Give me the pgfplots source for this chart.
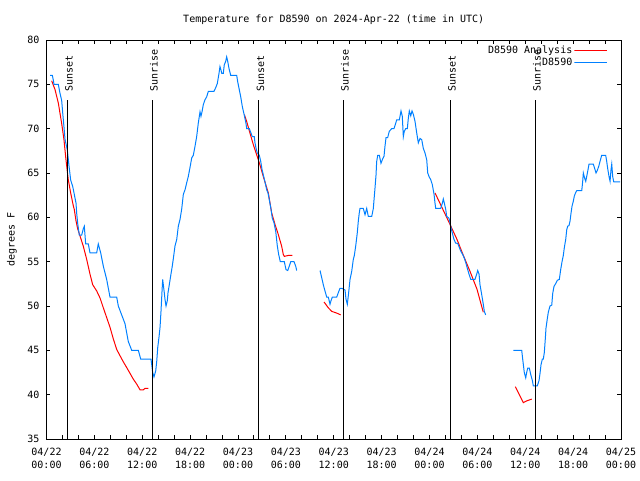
\documentclass[border=0pt]{standalone}
\usepackage{fontspec}
\setmainfont{DejaVu Sans Mono}
\usepackage{pgfplots}
\pgfplotsset{compat=1.18}
\definecolor{obsblue}{RGB}{0,128,255}
\definecolor{anared}{RGB}{255,0,0}
\begin{document}
\begin{tikzpicture}[font=\fontsize{10}{12.7}\selectfont]
\path[use as bounding box] (0,0) rectangle (640pt,480pt);
\node[anchor=center] at (333.75pt,460pt) {Temperature for D8590 on 2024-Apr-22 (time in UTC)};
\begin{axis}[
  at={(46.5pt,41pt)}, anchor=south west,
  width=574.5pt, height=399pt, scale only axis,
  xmin=0, xmax=72, ymin=35, ymax=80,
  xtick={0,6,...,72},
  xticklabels={{04/22\\00:00},{04/22\\06:00},{04/22\\12:00},{04/22\\18:00},{04/23\\00:00},{04/23\\06:00},{04/23\\12:00},{04/23\\18:00},{04/24\\00:00},{04/24\\06:00},{04/24\\12:00},{04/24\\18:00},{04/25\\00:00}},
  xticklabel style={align=center, font=\fontsize{10}{12.7}\selectfont, yshift=-6pt},
  minor x tick num=2,
  ytick={35,40,...,80},
  yticklabel style={xshift=-3.5pt},
  /pgf/number format/assume math mode=true,
  tick align=inside,
  major tick length=4pt, minor tick length=4pt,
  every tick/.style={black, line width=1pt},
  axis line style={black, line width=1pt},
  ylabel={degrees F},
  ylabel style={at={(axis description cs:-0.06005,0.5)}, anchor=center},
  legend style={draw=none, fill=none, at={(rel axis cs:1,1)}, anchor=north east, xshift=-10pt, yshift=-2pt, row sep=0.5pt, nodes={inner sep=1.5pt}},
  legend plot pos=right,
  legend cell align=right,
  legend image code/.code={\path (0pt,0pt) rectangle (5pt,0pt); \draw[#1] (5pt,0pt) -- (33pt,0pt);},
]
% ---- Analysis (red) ----
\addplot[anared, line width=1pt] coordinates {
(0.65,75.4) (1.07,74.4) (1.48,72.9) (1.90,70.6) (2.19,68.75) (2.44,66.5) (2.73,64.25) (3.03,62.75) (3.36,61.3) (3.48,60.9) (3.70,59.6) (3.91,58.7) (4.20,57.9) (4.61,56.75) (5.04,55.25) (5.45,53.6) (5.79,52.4) (6.29,51.7) (6.71,50.9) (7.12,49.8) (7.54,48.7) (7.96,47.6) (8.37,46.3) (8.80,45.1) (9.21,44.4) (9.63,43.7) (10.05,43.06) (10.47,42.4) (10.88,41.75) (11.30,41.2) (11.72,40.55) (12.13,40.55) (12.34,40.7) (12.76,40.7)
};
\addlegendentry{D8590 Analysis}
\addplot[anared, line width=1pt, forget plot] coordinates {
(24.79,71.6) (25.09,70.8) (25.50,69.5) (25.92,68.2) (26.34,67.06) (26.76,65.9) (27.17,64.6) (27.80,62.75) (28.22,60.5) (28.64,59.2) (29.05,58.06) (29.47,56.75) (29.68,55.8) (29.80,55.6) (30.30,55.7) (30.81,55.7)
};
\addplot[anared, line width=1pt, forget plot] coordinates {
(34.78,50.45) (35.32,49.8) (35.74,49.4) (36.37,49.2) (36.87,49.0)
};
\addplot[anared, line width=1pt, forget plot] coordinates {
(48.69,62.75) (49.57,61.1) (50.57,59.2) (51.45,57.5) (52.20,55.8) (53.08,53.9) (53.95,51.9) (54.74,49.3)
};
\addplot[anared, line width=1pt, forget plot] coordinates {
(58.75,40.9) (59.26,40.0) (59.76,39.1) (60.18,39.3) (60.81,39.5)
};
% ---- Observations (blue) ----
\addplot[obsblue, line width=1pt] coordinates {
(0.44,76) (0.73,76) (0.85,75.5) (0.94,75) (1.48,75) (1.69,74) (1.90,73.2) (2.03,71.8) (2.19,70.2) (2.32,68.8) (2.61,67.6) (2.82,65.8) (3.03,64.2) (3.28,63.5) (3.48,62.6) (3.70,61.6) (3.78,60.5) (3.91,59.3) (4.11,58) (4.41,58) (4.61,58.7) (4.74,59) (4.91,57) (5.24,57) (5.45,56) (6.29,56) (6.49,57) (6.79,56) (7.12,54.5) (7.54,53) (7.96,51) (8.80,51) (9.00,50) (9.42,49) (9.84,48) (10.25,46) (10.68,45) (11.51,45) (11.81,44) (13.10,44) (13.31,42.5) (13.47,42) (13.69,42.7) (13.81,43.7) (13.94,45.3) (14.10,46.5) (14.23,47.6) (14.35,49.4) (14.48,51.7) (14.56,53) (14.64,52.4) (14.76,51.5) (14.85,50.75) (14.98,50) (15.14,50.6) (15.23,51.5) (15.39,52.4) (15.60,53.6) (15.73,54.3) (15.89,55.3) (16.10,56.75) (16.32,57.5) (16.52,59) (16.73,59.75) (16.94,60.9) (17.15,62.6) (17.36,63.1) (17.57,63.9) (17.77,64.6) (17.98,65.6) (18.20,66.7) (18.40,67) (18.61,68) (18.82,69.1) (19.02,70.6) (19.24,71.9) (19.36,71.4) (19.49,71.9) (19.65,72.7) (19.86,73.25) (20.08,73.6) (20.28,74.2) (20.99,74.2) (21.24,74.7) (21.41,75.1) (21.62,76.25) (21.74,77) (21.87,76.6) (21.96,76.25) (22.16,76.25) (22.28,77.2) (22.46,77.6) (22.58,78.1) (22.71,77.6) (22.87,76.8) (23.09,76) (23.84,76) (23.96,75.3) (24.16,74.4) (24.34,73.6) (24.54,72.5) (24.79,71.5) (25.00,70.6) (25.09,70) (25.42,70) (25.63,69.5) (25.79,69.1) (26.04,69.1) (26.13,68.4) (26.26,67.8) (26.42,67.25) (26.67,67) (26.85,66.3) (27.01,65.4) (27.17,64.8) (27.38,64) (27.60,63.1) (27.76,62.75) (27.92,62) (28.14,60.9) (28.30,59.9) (28.51,59.4) (28.73,58.4) (28.93,56.75) (29.10,55.8) (29.30,55) (29.80,55) (30.02,54.1) (30.23,54) (30.43,54.5) (30.61,55) (31.02,55) (31.23,54.5) (31.36,54)
};
\addlegendentry{D8590}
\addplot[obsblue, line width=1pt, forget plot] coordinates {
(34.28,54) (34.49,53.2) (34.69,52.4) (34.90,51.7) (35.12,51) (35.32,51) (35.53,50.2) (35.66,50.6) (35.82,51) (36.37,51) (36.57,51.5) (36.78,52) (37.07,52) (37.20,51.9) (37.41,51.8) (37.54,50.75) (37.70,50.2) (37.82,51.1) (38.04,53) (38.25,53.9) (38.45,55.25) (38.58,55.7) (38.75,56.75) (38.95,58.25) (39.08,59.6) (39.20,60.5) (39.29,61) (39.70,61) (39.92,60.3) (40.13,61) (40.33,60.1) (40.76,60.1) (40.96,61) (41.05,62) (41.17,63.3) (41.30,64.8) (41.38,66.3) (41.51,67) (41.71,67) (41.92,66.1) (42.09,66.5) (42.30,66.9) (42.42,68) (42.55,69) (42.76,69) (42.96,69.7) (43.26,70) (43.55,70) (43.76,70.6) (43.89,71) (44.22,71) (44.43,72) (44.59,71.4) (44.72,69.1) (44.84,69.7) (45.02,70) (45.22,70) (45.35,71.2) (45.47,72) (45.65,71.45) (45.81,72) (45.98,71.6) (46.19,70.8) (46.40,69.5) (46.60,68.4) (46.81,68.9) (47.03,68.75) (47.22,67.8) (47.44,67.25) (47.65,66.5) (47.78,65) (47.94,64.6) (48.15,64.25) (48.35,63.7) (48.57,62.6) (48.69,61.6) (48.78,61) (49.40,61) (49.61,61.6) (49.73,62.07) (49.86,61.6) (50.03,60.9) (50.16,60.1) (50.44,59.9) (50.57,59.4) (50.70,58.8) (50.91,58.06) (51.07,57.5) (51.28,57.1) (51.54,57.05) (51.74,56.6) (51.91,56.2) (52.16,55.8) (52.36,55.4) (52.54,54.9) (52.79,54.1) (52.95,53.6) (53.17,53) (53.70,53) (53.92,53.6) (54.04,54) (54.21,53.6) (54.33,52.4) (54.54,51.3) (54.74,50.2) (54.87,49.4) (55.04,49)
};
\addplot[obsblue, line width=1pt, forget plot] coordinates {
(58.50,45) (59.56,45) (59.63,44.4) (59.76,43.4) (59.88,42.5) (60.06,41.9) (60.18,42.5) (60.31,43) (60.51,43) (60.68,42.3) (60.89,41.6) (61.01,41) (61.51,41) (61.73,41.6) (61.85,42.4) (61.98,43.4) (62.14,44) (62.26,44) (62.39,44.75) (62.51,46.25) (62.60,47.5) (62.77,48.6) (62.89,49.3) (63.10,50) (63.32,50.1) (63.44,51.4) (63.60,52.2) (63.86,52.6) (64.02,52.9) (64.27,53) (64.44,54.1) (64.61,55) (64.77,55.7) (64.90,56.6) (65.07,57.5) (65.20,58.6) (65.32,59) (65.48,59.07) (65.61,59.56) (65.74,60.5) (65.86,61.25) (66.02,61.8) (66.15,62.4) (66.32,62.8) (66.45,63) (67.08,63) (67.20,64.06) (67.28,65) (67.45,64.4) (67.58,64.06) (67.70,64.6) (67.83,65.2) (67.99,66) (68.53,66) (68.74,65.4) (68.87,65) (69.03,65.3) (69.21,65.75) (69.37,66.3) (69.58,67) (70.08,67) (70.21,66.3) (70.34,65.45) (70.50,64.6) (70.63,64.06) (70.75,65.4) (70.84,66) (70.96,64.6) (71.09,64) (71.88,64)
};
% ---- Sunrise / Sunset markers ----
\addplot[black, line width=1pt, forget plot] coordinates {(2.6,35) (2.6,73.23)};
\addplot[black, line width=1pt, forget plot] coordinates {(13.25,35) (13.25,73.23)};
\addplot[black, line width=1pt, forget plot] coordinates {(26.6,35) (26.6,73.23)};
\addplot[black, line width=1pt, forget plot] coordinates {(37.2,35) (37.2,73.23)};
\addplot[black, line width=1pt, forget plot] coordinates {(50.6,35) (50.6,73.23)};
\addplot[black, line width=1pt, forget plot] coordinates {(61.25,35) (61.25,73.23)};
\node[rotate=90, anchor=base west, inner sep=0pt, yshift=-5.4pt] at (axis cs:2.6,74.14) {Sunset};
\node[rotate=90, anchor=base west, inner sep=0pt, yshift=-5.4pt] at (axis cs:13.25,74.14) {Sunrise};
\node[rotate=90, anchor=base west, inner sep=0pt, yshift=-5.4pt] at (axis cs:26.6,74.14) {Sunset};
\node[rotate=90, anchor=base west, inner sep=0pt, yshift=-5.4pt] at (axis cs:37.2,74.14) {Sunrise};
\node[rotate=90, anchor=base west, inner sep=0pt, yshift=-5.4pt] at (axis cs:50.6,74.14) {Sunset};
\node[rotate=90, anchor=base west, inner sep=0pt, yshift=-5.4pt] at (axis cs:61.25,74.14) {Sunrise};
\end{axis}
\end{tikzpicture}
\end{document}
